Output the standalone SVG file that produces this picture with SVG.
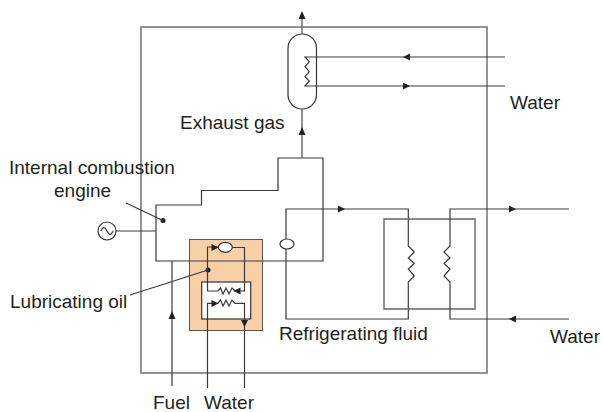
<svg xmlns="http://www.w3.org/2000/svg" width="603" height="412" viewBox="0 0 603 412">
<defs>
<style>
.l{fill:none;stroke:#3a3a3a;stroke-width:1.2}
.g{fill:none;stroke:#666;stroke-width:1.4}
.a{fill:#222;stroke:none}
.d{fill:#222;stroke:none}
.t{font-family:"Liberation Sans",Arial,sans-serif;font-size:19px;fill:#231f20}
</style>
</defs>
<rect width="603" height="412" fill="#fff"/>
<g id="frame"><rect x="141" y="27" width="346" height="346" class="g"/></g>
<g id="oil-box"><rect x="189.500" y="239.500" width="73" height="91" fill="#f9cfa8" stroke="#555" stroke-width="1"/><rect x="201.700" y="282" width="49" height="37" fill="#fff" stroke="#333" stroke-width="1.2"/></g>
<g id="engine"><path class="l" d="M156 205H201.500V190.500H278V158H323V261H156Z"/><circle class="d" cx="163" cy="220.500" r="2.500"/></g>
<g id="generator"><circle cx="107" cy="231" r="9" fill="#fff" stroke="#333" stroke-width="1.2"/><path class="l" d="M101 231C103 226 105 227 107 231S111 236 113 231"/></g>
<g id="exhaust-vessel"><rect x="288" y="34" width="28.500" height="75" rx="14.250" fill="#fff" stroke="#333" stroke-width="1.2"/></g>
<g id="pump-refrigerant"><ellipse cx="287" cy="244" rx="7" ry="5" fill="#fff" stroke="#333" stroke-width="1.2"/></g>
<g id="pump-oil"><ellipse cx="225.300" cy="247.300" rx="7" ry="5" fill="#fff" stroke="#333" stroke-width="1.2"/><circle class="d" cx="208" cy="270" r="2.500"/></g>
<g id="connectors">
<path class="g" d="M302 34V18M302 109V158"/>
<path class="a" d="M302 11L298.500 19H305.500ZM302 127L298.500 135H305.500Z"/>
<path class="l" d="M505 57H305L309.300 61.700L305 66.700L309.300 71.700L305 76.700L309.300 81L305 86H505"/>
<path class="a" d="M403 57L410 53.500V60.500ZM410 86L403 82.500V89.500Z"/>
<path class="l" d="M286 239V209H408.300V246L414.300 252L408.300 258L414.300 263.500L408.300 269L414.300 276L408.300 282V319H286V249"/>
<path class="g" d="M384 219H475V309H384Z"/>
<path class="l" d="M569 209H450V246L444 252L450 258L444 263.500L450 269L444 276L450 282V319H569"/>
<path class="a" d="M345 209L338 205.500V212.500ZM516 209L509 205.500V212.500ZM509 319L516 315.500V322.500Z"/>
<path class="l" d="M116 231H156"/>
<path class="l" d="M126 203L163 220.500M130 295L208 270"/>
<path class="l" d="M172 261V386"/>
<path class="a" d="M172 311L168.500 319H175.500Z"/>
<path class="l" d="M218 247H207.500V291H218L220.500 288L223 294L226 288L229 294L232 288L235 291H244.500V247.500H232"/>
<path class="l" d="M207.500 388V303.300H218L220.500 300L223 306L226 300L229 306L232 300L235 303.300H244.500V388"/>
<path class="a" d="M218.500 247.500L211.500 244V251ZM233.500 291L240.500 287.500V294.500ZM218.500 303.500L211.500 300V307ZM244.500 327L241 320H248Z"/>
</g>
<g id="labels">
<text class="t" x="510" y="109">Water</text>
<text class="t" x="180" y="129">Exhaust gas</text>
<text class="t" x="9" y="174">Internal combustion</text>
<text class="t" x="54" y="197">engine</text>
<text class="t" x="10" y="308">Lubricating oil</text>
<text class="t" x="279" y="340">Refrigerating fluid</text>
<text class="t" x="550" y="343">Water</text>
<text class="t" x="153" y="409">Fuel</text>
<text class="t" x="204" y="409">Water</text>
</g>
</svg>
